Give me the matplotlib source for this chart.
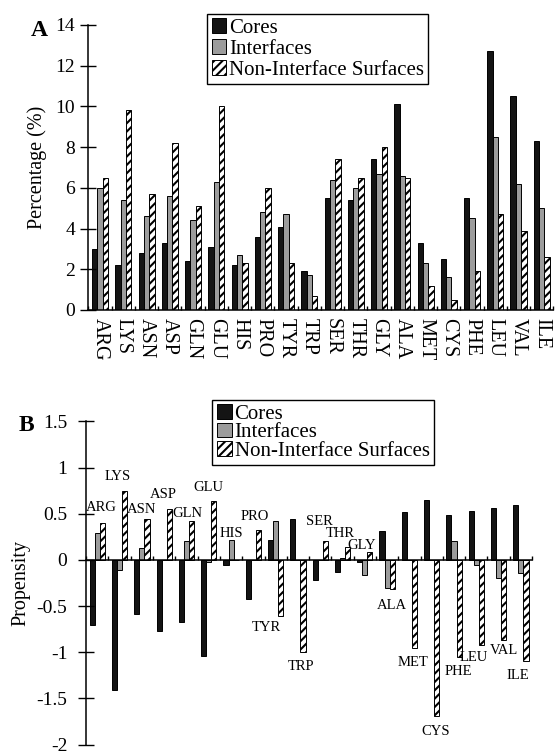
import matplotlib
matplotlib.use("Agg")
import matplotlib.pyplot as plt
import matplotlib.patches as mpatches
from matplotlib.legend_handler import HandlerPatch
from matplotlib.ticker import FormatStrFormatter
import numpy as np

plt.rcParams["font.family"] = ["Liberation Serif", "DejaVu Serif"]
plt.rcParams["axes.unicode_minus"] = False
plt.rcParams["hatch.linewidth"] = 1.5

# ── 데이터 ─────────────────────────────────────────────
residues = ["ARG", "LYS", "ASN", "ASP", "GLN", "GLU", "HIS", "PRO", "TYR", "TRP",
            "SER", "THR", "GLY", "ALA", "MET", "CYS", "PHE", "LEU", "VAL", "ILE"]
series_names = ["Cores", "Interfaces", "Non-Interface Surfaces"]

# A: percentage (%)
pct_core = [3.0, 2.2, 2.8, 3.3, 2.4, 3.1, 2.2, 3.6, 4.1, 1.9,
            5.5, 5.4, 7.4, 10.1, 3.3, 2.5, 5.5, 12.7, 10.5, 8.3]
pct_interface = [6.0, 5.4, 4.6, 5.6, 4.4, 6.3, 2.7, 4.8, 4.7, 1.7,
                 6.4, 6.0, 6.7, 6.6, 2.3, 1.6, 4.5, 8.5, 6.2, 5.0]
pct_surface = [6.5, 9.8, 5.7, 8.2, 5.1, 10.0, 2.3, 6.0, 2.3, 0.7,
               7.4, 6.5, 8.0, 6.5, 1.2, 0.5, 1.9, 4.7, 3.9, 2.6]

# B: propensity
prop_core = [-0.71, -1.41, -0.59, -0.77, -0.67, -1.04, -0.05, -0.42, 0.22, 0.44,
             -0.22, -0.13, -0.02, 0.31, 0.52, 0.65, 0.49, 0.53, 0.56, 0.59]
prop_interface = [0.29, -0.11, 0.13, 0.0, 0.21, -0.02, 0.22, 0.0, 0.42, 0.0,
                  0.0, 0.02, -0.16, -0.30, 0.0, 0.0, 0.20, -0.05, -0.20, -0.14]
prop_surface = [0.40, 0.75, 0.44, 0.55, 0.42, 0.64, 0.0, 0.32, -0.61, -1.00,
                0.20, 0.14, 0.09, -0.32, -0.95, -1.69, -1.05, -0.92, -0.87, -1.10]

# B 패널 잔기 이름 위치 (데이터 좌표, 레이아웃용)
label_xy = [(0.2, 0.57), (0.9, 0.90), (2.0, 0.55), (2.96, 0.71), (4.05, 0.50),
            (4.98, 0.78), (6.02, 0.29), (7.07, 0.47), (7.56, -0.73), (9.16, -1.15),
            (9.95, 0.42), (10.91, 0.29), (11.85, 0.16), (13.2, -0.49), (14.17, -1.11),
            (15.17, -1.86), (16.19, -1.21), (16.89, -1.06), (18.25, -0.98), (18.88, -1.25)]

COL_CORE = "#141414"
COL_IFACE = "#9c9c9c"
BAR_W = 0.23


def square_handle(legend, orig_handle, xdescent, ydescent, width, height, fontsize):
    side = 10.5
    return mpatches.Rectangle((-xdescent + width - side, -ydescent + (height - side) / 2),
                              side, side)


def draw_bars(ax, core, iface, surf):
    x = np.arange(len(residues))
    kw = dict(width=BAR_W, edgecolor="black", linewidth=0.7)
    ax.bar(x - BAR_W, core, color=COL_CORE, **kw)
    ax.bar(x, iface, color=COL_IFACE, **kw)
    ax.bar(x + BAR_W, surf, color="white", hatch="////", **kw)
    ax.set_xlim(-0.5, len(residues) - 0.5)
    ax.set_xticks(np.arange(-0.5, len(residues)), minor=True)
    ax.tick_params(axis="x", which="minor", direction="in", length=3, width=1)
    ax.tick_params(axis="y", which="major", direction="inout", length=11, width=1,
                   labelsize=14)
    ax.spines[["top", "right"]].set_visible(False)
    for s in ("left", "bottom"):
        ax.spines[s].set_linewidth(1.1)


def add_legend(ax, anchor, spacing):
    proxies = [
        mpatches.Rectangle((0, 0), 1, 1, facecolor=COL_CORE, edgecolor="black", linewidth=0.7),
        mpatches.Rectangle((0, 0), 1, 1, facecolor=COL_IFACE, edgecolor="black", linewidth=0.7),
        mpatches.Rectangle((0, 0), 1, 1, facecolor="white", edgecolor="black", linewidth=0.7,
                           hatch="////"),
    ]
    leg = ax.legend(proxies, series_names, loc="upper left", bbox_to_anchor=anchor,
                    bbox_transform=ax.figure.transFigure, fontsize=15,
                    fancybox=False, framealpha=1, edgecolor="black",
                    handlelength=0.75, handleheight=0.7, handletextpad=0.12,
                    borderpad=0.2, labelspacing=spacing, borderaxespad=0,
                    handler_map={mpatches.Rectangle: HandlerPatch(patch_func=square_handle)})
    leg.get_frame().set_linewidth(1.0)


fig = plt.figure(figsize=(5.55, 7.54), dpi=100)

# ── Panel A ─────────────────────────────────────────────
ax_a = fig.add_axes([0.1593, 0.5889, 0.8378, 0.378])
draw_bars(ax_a, pct_core, pct_interface, pct_surface)
ax_a.set_ylim(0, 14)
ax_a.set_yticks(np.arange(0, 15, 2))
ax_a.set_xticks(np.arange(len(residues)))
ax_a.set_xticklabels(residues, rotation=270, fontsize=14.5, va="top", ha="center")
ax_a.tick_params(axis="x", which="major", length=0, pad=6)
ax_a.tick_params(axis="y", pad=4)
ax_a.set_ylabel("Percentage (%)", fontsize=14.5)
ax_a.yaxis.set_label_coords(-0.088, 0.5)
add_legend(ax_a, (0.3724, 0.981), 0.06)
fig.text(0.071, 0.960, "A", fontsize=17, fontweight="bold", ha="center", va="center")

# ── Panel B ─────────────────────────────────────────────
ax_b = fig.add_axes([0.1553, 0.0125, 0.8032, 0.4285])
draw_bars(ax_b, prop_core, prop_interface, prop_surface)
ax_b.set_ylim(-2, 1.5)
ax_b.set_yticks(np.arange(-2, 1.51, 0.5))
ax_b.yaxis.set_major_formatter(FormatStrFormatter("%g"))
ax_b.set_xticks([])
ax_b.spines["bottom"].set_position(("data", 0))
ax_b.tick_params(axis="y", pad=8)
ax_b.set_ylabel("Propensity", fontsize=14.5)
ax_b.yaxis.set_label_coords(-0.125, 0.5)
for name, (tx, ty) in zip(residues, label_xy):
    ax_b.text(tx, ty, name, fontsize=10.5, ha="center", va="center")
add_legend(ax_b, (0.3825, 0.4695), -0.05)
fig.text(0.048, 0.436, "B", fontsize=17, fontweight="bold", ha="center", va="center")

fig.savefig("out.png", dpi=100, facecolor="white")
